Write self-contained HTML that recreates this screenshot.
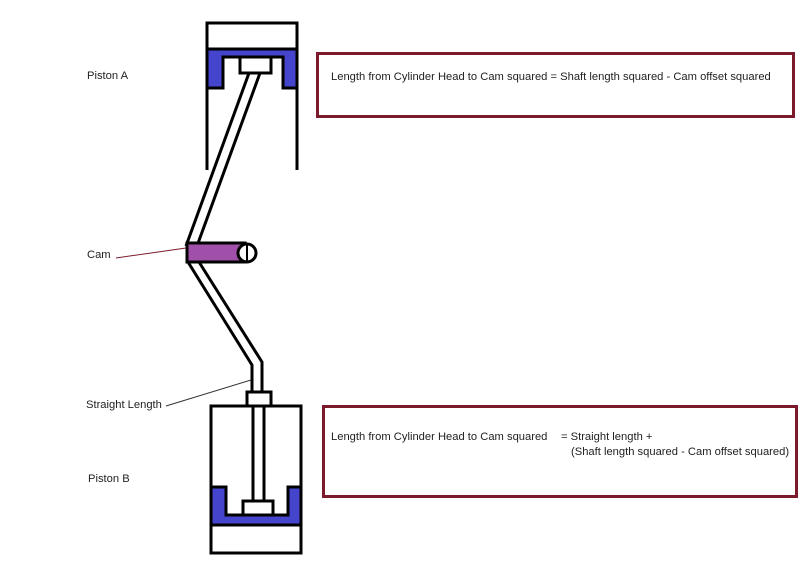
<!DOCTYPE html>
<html><head><meta charset="utf-8"><style>
html,body{margin:0;padding:0;background:#fff;width:800px;height:569px;overflow:hidden}
svg{display:block}
text{font-family:"Liberation Sans",sans-serif;font-size:11.2px;fill:#222}
</style></head><body>
<svg width="800" height="569" viewBox="0 0 800 569">
<g stroke="#000" stroke-width="3" fill="none">
<rect x="207" y="23" width="90" height="27" fill="#fff"/>
<line x1="207" y1="50" x2="207" y2="170"/>
<line x1="297" y1="50" x2="297" y2="170"/>
</g>
<path d="M207,49 H297 V88 H283 V57 H223 V88 H207 Z" fill="#4444cc" stroke="#000" stroke-width="3"/>
<rect x="240" y="57" width="31" height="16" fill="#fff" stroke="#000" stroke-width="3"/>
<g stroke="#000" stroke-width="3">
<line x1="249" y1="73" x2="186" y2="246"/>
<line x1="260" y1="73" x2="197" y2="246"/>
</g>
<path d="M188,262 L252,365 L252,392 M199,262 L262,362 L262,392" stroke="#000" stroke-width="3" fill="none"/>
<rect x="187" y="243" width="58" height="19" fill="#a050a8" stroke="#000" stroke-width="3"/>
<circle cx="247" cy="253" r="9" fill="#fff" stroke="#000" stroke-width="3"/>
<line x1="247" y1="244" x2="247" y2="262" stroke="#000" stroke-width="2"/>
<rect x="247" y="392" width="24" height="14" fill="#fff" stroke="#000" stroke-width="3"/>
<rect x="211" y="406" width="90" height="147" fill="#fff" stroke="#000" stroke-width="3"/>
<path d="M211,487 H226 V515 H288 V487 H301 V525 H211 Z" fill="#4444cc" stroke="#000" stroke-width="3"/>
<line x1="211" y1="525" x2="301" y2="525" stroke="#000" stroke-width="3"/>
<line x1="253" y1="406" x2="253" y2="501" stroke="#000" stroke-width="3"/>
<line x1="264" y1="406" x2="264" y2="501" stroke="#000" stroke-width="3"/>
<rect x="243" y="501" width="30" height="14" fill="#fff" stroke="#000" stroke-width="3"/>
<line x1="116" y1="258" x2="186" y2="248" stroke="#7a1a2a" stroke-width="1"/>
<line x1="166" y1="406" x2="251" y2="380" stroke="#333" stroke-width="1"/>
<text x="87" y="79">Piston A</text>
<text x="87" y="258">Cam</text>
<text x="86" y="408">Straight Length</text>
<text x="88" y="482">Piston B</text>
<rect x="317.5" y="53.5" width="476" height="63" fill="none" stroke="#7a1a2a" stroke-width="3"/>
<text x="331" y="80">Length from Cylinder Head to Cam squared = Shaft length squared - Cam offset squared</text>
<rect x="323.5" y="406.5" width="473" height="90" fill="none" stroke="#7a1a2a" stroke-width="3"/>
<text x="331" y="440">Length from Cylinder Head to Cam squared</text>
<text x="561" y="440">=  Straight length +</text>
<text x="571" y="455">(Shaft length squared - Cam offset squared)</text>
</svg>
</body></html>
